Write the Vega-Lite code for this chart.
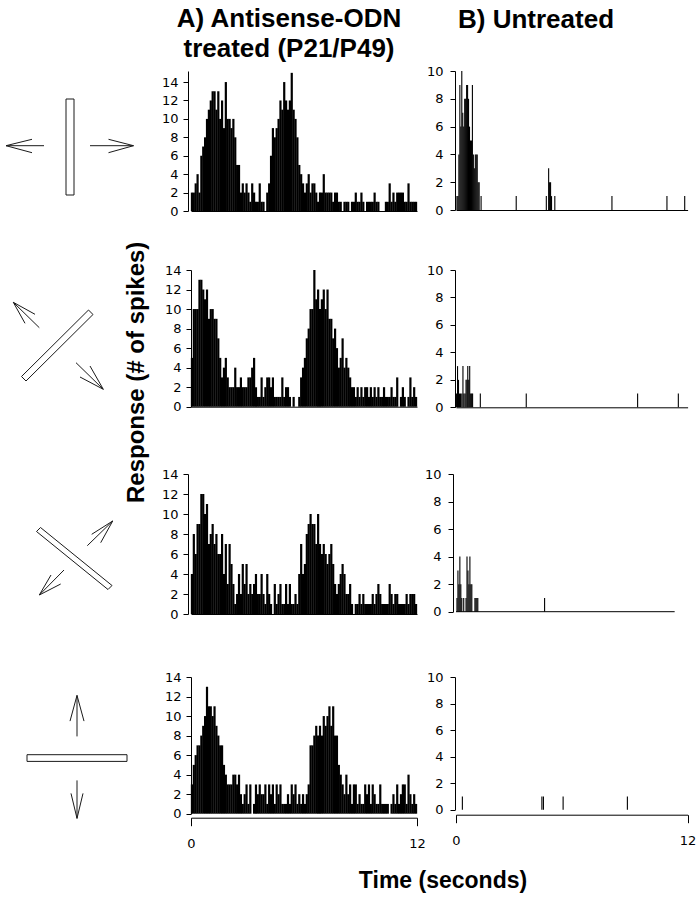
{
"$schema":"https://vega.github.io/schema/vega-lite/v6.json",
"background":"white",
"padding":{"left":0,"top":6,"right":2,"bottom":5},
"config":{"view":{"stroke":null},"font":"Liberation Sans",
"axis":{"domainColor":"black","tickColor":"black","labelColor":"black","grid":false,"labelFont":"DejaVu Sans","labelFontSize":13,"labelOverlap":false,"tickSize":5,"domainWidth":1,"tickWidth":1},
"title":{"font":"Liberation Sans","fontWeight":"bold","color":"black"}},
"datasets":{
"a1":[{"t":0.05,"n":2},{"t":0.15,"n":2},{"t":0.25,"n":3},{"t":0.35,"n":4},{"t":0.45,"n":2},{"t":0.55,"n":6},{"t":0.65,"n":7},{"t":0.75,"n":8},{"t":0.85,"n":10},{"t":0.95,"n":11},
{"t":1.05,"n":12},{"t":1.15,"n":13},{"t":1.25,"n":13},{"t":1.35,"n":11},{"t":1.45,"n":13},{"t":1.55,"n":10},{"t":1.65,"n":12},{"t":1.75,"n":9},{"t":1.85,"n":14},{"t":1.95,"n":10},
{"t":2.05,"n":10},{"t":2.15,"n":9},{"t":2.25,"n":10},{"t":2.35,"n":8},{"t":2.45,"n":5},{"t":2.55,"n":5},{"t":2.65,"n":2},{"t":2.75,"n":3},{"t":2.85,"n":2},{"t":2.95,"n":3},
{"t":3.05,"n":2},{"t":3.15,"n":1},{"t":3.25,"n":3},{"t":3.35,"n":2},{"t":3.45,"n":1},{"t":3.55,"n":1},{"t":3.65,"n":3},{"t":3.75,"n":1},{"t":3.85,"n":1},{"t":3.95,"n":0},
{"t":4.05,"n":2},{"t":4.15,"n":3},{"t":4.25,"n":6},{"t":4.35,"n":9},{"t":4.45,"n":8},{"t":4.55,"n":9},{"t":4.65,"n":10},{"t":4.75,"n":12},{"t":4.85,"n":11},{"t":4.95,"n":14},
{"t":5.05,"n":12},{"t":5.15,"n":11},{"t":5.25,"n":12},{"t":5.35,"n":15},{"t":5.45,"n":11},{"t":5.55,"n":10},{"t":5.65,"n":8},{"t":5.75,"n":5},{"t":5.85,"n":4},{"t":5.95,"n":3},
{"t":6.05,"n":2},{"t":6.15,"n":3},{"t":6.25,"n":4},{"t":6.35,"n":2},{"t":6.45,"n":3},{"t":6.55,"n":3},{"t":6.65,"n":2},{"t":6.75,"n":1},{"t":6.85,"n":2},{"t":6.95,"n":2},
{"t":7.05,"n":4},{"t":7.15,"n":2},{"t":7.25,"n":2},{"t":7.35,"n":2},{"t":7.45,"n":2},{"t":7.55,"n":1},{"t":7.65,"n":2},{"t":7.75,"n":2},{"t":7.85,"n":1},{"t":7.95,"n":1},
{"t":8.05,"n":0},{"t":8.15,"n":1},{"t":8.25,"n":1},{"t":8.35,"n":1},{"t":8.45,"n":0},{"t":8.55,"n":1},{"t":8.65,"n":1},{"t":8.75,"n":2},{"t":8.85,"n":1},{"t":8.95,"n":1},
{"t":9.05,"n":2},{"t":9.15,"n":1},{"t":9.25,"n":0},{"t":9.35,"n":1},{"t":9.45,"n":1},{"t":9.55,"n":1},{"t":9.65,"n":1},{"t":9.75,"n":2},{"t":9.85,"n":1},{"t":9.95,"n":1},
{"t":10.05,"n":0},{"t":10.15,"n":0},{"t":10.25,"n":0},{"t":10.35,"n":1},{"t":10.45,"n":1},{"t":10.55,"n":3},{"t":10.65,"n":1},{"t":10.75,"n":2},{"t":10.85,"n":1},{"t":10.95,"n":2},
{"t":11.05,"n":2},{"t":11.15,"n":2},{"t":11.25,"n":2},{"t":11.35,"n":1},{"t":11.45,"n":1},{"t":11.55,"n":3},{"t":11.65,"n":1},{"t":11.75,"n":1},{"t":11.85,"n":1},{"t":11.95,"n":1}],
"a2":[{"t":0.05,"n":5},{"t":0.15,"n":10},{"t":0.25,"n":10},{"t":0.35,"n":10},{"t":0.45,"n":13},{"t":0.55,"n":13},{"t":0.65,"n":12},{"t":0.75,"n":11},{"t":0.85,"n":12},{"t":0.95,"n":9},
{"t":1.05,"n":10},{"t":1.15,"n":10},{"t":1.25,"n":9},{"t":1.35,"n":9},{"t":1.45,"n":7},{"t":1.55,"n":5},{"t":1.65,"n":3},{"t":1.75,"n":4},{"t":1.85,"n":5},{"t":1.95,"n":3},
{"t":2.05,"n":2},{"t":2.15,"n":2},{"t":2.25,"n":2},{"t":2.35,"n":4},{"t":2.45,"n":2},{"t":2.55,"n":2},{"t":2.65,"n":3},{"t":2.75,"n":2},{"t":2.85,"n":2},{"t":2.95,"n":2},
{"t":3.05,"n":3},{"t":3.15,"n":3},{"t":3.25,"n":4},{"t":3.35,"n":5},{"t":3.45,"n":2},{"t":3.55,"n":1},{"t":3.65,"n":1},{"t":3.75,"n":3},{"t":3.85,"n":1},{"t":3.95,"n":2},
{"t":4.05,"n":3},{"t":4.15,"n":3},{"t":4.25,"n":2},{"t":4.35,"n":3},{"t":4.45,"n":1},{"t":4.55,"n":1},{"t":4.65,"n":1},{"t":4.75,"n":1},{"t":4.85,"n":3},{"t":4.95,"n":1},
{"t":5.05,"n":2},{"t":5.15,"n":2},{"t":5.25,"n":1},{"t":5.35,"n":0},{"t":5.45,"n":1},{"t":5.55,"n":0},{"t":5.65,"n":0},{"t":5.75,"n":1},{"t":5.85,"n":3},{"t":5.95,"n":4},
{"t":6.05,"n":5},{"t":6.15,"n":7},{"t":6.25,"n":8},{"t":6.35,"n":10},{"t":6.45,"n":10},{"t":6.55,"n":14},{"t":6.65,"n":11},{"t":6.75,"n":12},{"t":6.85,"n":10},{"t":6.95,"n":11},
{"t":7.05,"n":12},{"t":7.15,"n":10},{"t":7.25,"n":12},{"t":7.35,"n":9},{"t":7.45,"n":9},{"t":7.55,"n":7},{"t":7.65,"n":8},{"t":7.75,"n":6},{"t":7.85,"n":4},{"t":7.95,"n":5},
{"t":8.05,"n":7},{"t":8.15,"n":4},{"t":8.25,"n":5},{"t":8.35,"n":4},{"t":8.45,"n":3},{"t":8.55,"n":2},{"t":8.65,"n":2},{"t":8.75,"n":1},{"t":8.85,"n":2},{"t":8.95,"n":1},
{"t":9.05,"n":2},{"t":9.15,"n":1},{"t":9.25,"n":2},{"t":9.35,"n":2},{"t":9.45,"n":1},{"t":9.55,"n":2},{"t":9.65,"n":1},{"t":9.75,"n":2},{"t":9.85,"n":1},{"t":9.95,"n":2},
{"t":10.05,"n":1},{"t":10.15,"n":1},{"t":10.25,"n":2},{"t":10.35,"n":1},{"t":10.45,"n":1},{"t":10.55,"n":1},{"t":10.65,"n":2},{"t":10.75,"n":1},{"t":10.85,"n":1},{"t":10.95,"n":3},
{"t":11.05,"n":0},{"t":11.15,"n":1},{"t":11.25,"n":2},{"t":11.35,"n":1},{"t":11.45,"n":0},{"t":11.55,"n":1},{"t":11.65,"n":3},{"t":11.75,"n":1},{"t":11.85,"n":2},{"t":11.95,"n":1}],
"a3":[{"t":0.05,"n":4},{"t":0.15,"n":8},{"t":0.25,"n":6},{"t":0.35,"n":9},{"t":0.45,"n":9},{"t":0.55,"n":12},{"t":0.65,"n":12},{"t":0.75,"n":10},{"t":0.85,"n":11},{"t":0.95,"n":7},
{"t":1.05,"n":8},{"t":1.15,"n":9},{"t":1.25,"n":7},{"t":1.35,"n":8},{"t":1.45,"n":6},{"t":1.55,"n":6},{"t":1.65,"n":8},{"t":1.75,"n":4},{"t":1.85,"n":7},{"t":1.95,"n":3},
{"t":2.05,"n":7},{"t":2.15,"n":5},{"t":2.25,"n":3},{"t":2.35,"n":1},{"t":2.45,"n":2},{"t":2.55,"n":4},{"t":2.65,"n":2},{"t":2.75,"n":5},{"t":2.85,"n":3},{"t":2.95,"n":5},
{"t":3.05,"n":2},{"t":3.15,"n":3},{"t":3.25,"n":2},{"t":3.35,"n":3},{"t":3.45,"n":4},{"t":3.55,"n":2},{"t":3.65,"n":2},{"t":3.75,"n":4},{"t":3.85,"n":2},{"t":3.95,"n":1},
{"t":4.05,"n":4},{"t":4.15,"n":2},{"t":4.25,"n":1},{"t":4.35,"n":0},{"t":4.45,"n":3},{"t":4.55,"n":1},{"t":4.65,"n":2},{"t":4.75,"n":3},{"t":4.85,"n":1},{"t":4.95,"n":1},
{"t":5.05,"n":3},{"t":5.15,"n":1},{"t":5.25,"n":3},{"t":5.35,"n":1},{"t":5.45,"n":1},{"t":5.55,"n":2},{"t":5.65,"n":1},{"t":5.75,"n":4},{"t":5.85,"n":7},{"t":5.95,"n":4},
{"t":6.05,"n":5},{"t":6.15,"n":8},{"t":6.25,"n":9},{"t":6.35,"n":10},{"t":6.45,"n":9},{"t":6.55,"n":9},{"t":6.65,"n":7},{"t":6.75,"n":10},{"t":6.85,"n":7},{"t":6.95,"n":6},
{"t":7.05,"n":7},{"t":7.15,"n":6},{"t":7.25,"n":5},{"t":7.35,"n":6},{"t":7.45,"n":7},{"t":7.55,"n":5},{"t":7.65,"n":3},{"t":7.75,"n":2},{"t":7.85,"n":3},{"t":7.95,"n":4},
{"t":8.05,"n":5},{"t":8.15,"n":4},{"t":8.25,"n":2},{"t":8.35,"n":2},{"t":8.45,"n":3},{"t":8.55,"n":1},{"t":8.65,"n":0},{"t":8.75,"n":1},{"t":8.85,"n":1},{"t":8.95,"n":2},
{"t":9.05,"n":1},{"t":9.15,"n":2},{"t":9.25,"n":1},{"t":9.35,"n":1},{"t":9.45,"n":1},{"t":9.55,"n":1},{"t":9.65,"n":2},{"t":9.75,"n":1},{"t":9.85,"n":2},{"t":9.95,"n":3},
{"t":10.05,"n":2},{"t":10.15,"n":1},{"t":10.25,"n":1},{"t":10.35,"n":1},{"t":10.45,"n":1},{"t":10.55,"n":3},{"t":10.65,"n":2},{"t":10.75,"n":1},{"t":10.85,"n":2},{"t":10.95,"n":2},
{"t":11.05,"n":1},{"t":11.15,"n":1},{"t":11.25,"n":1},{"t":11.35,"n":1},{"t":11.45,"n":2},{"t":11.55,"n":1},{"t":11.65,"n":2},{"t":11.75,"n":2},{"t":11.85,"n":2},{"t":11.95,"n":1}],
"a4":[{"t":0.05,"n":3},{"t":0.15,"n":5},{"t":0.25,"n":6},{"t":0.35,"n":7},{"t":0.45,"n":7},{"t":0.55,"n":8},{"t":0.65,"n":9},{"t":0.75,"n":10},{"t":0.85,"n":13},{"t":0.95,"n":11},
{"t":1.05,"n":11},{"t":1.15,"n":10},{"t":1.25,"n":11},{"t":1.35,"n":9},{"t":1.45,"n":8},{"t":1.55,"n":7},{"t":1.65,"n":7},{"t":1.75,"n":5},{"t":1.85,"n":4},{"t":1.95,"n":3},
{"t":2.05,"n":3},{"t":2.15,"n":3},{"t":2.25,"n":4},{"t":2.35,"n":4},{"t":2.45,"n":3},{"t":2.55,"n":4},{"t":2.65,"n":2},{"t":2.75,"n":1},{"t":2.85,"n":2},{"t":2.95,"n":3},
{"t":3.05,"n":1},{"t":3.15,"n":3},{"t":3.25,"n":0},{"t":3.35,"n":1},{"t":3.45,"n":3},{"t":3.55,"n":2},{"t":3.65,"n":3},{"t":3.75,"n":2},{"t":3.85,"n":2},{"t":3.95,"n":3},
{"t":4.05,"n":1},{"t":4.15,"n":3},{"t":4.25,"n":2},{"t":4.35,"n":3},{"t":4.45,"n":1},{"t":4.55,"n":3},{"t":4.65,"n":2},{"t":4.75,"n":3},{"t":4.85,"n":1},{"t":4.95,"n":1},
{"t":5.05,"n":1},{"t":5.15,"n":2},{"t":5.25,"n":1},{"t":5.35,"n":3},{"t":5.45,"n":2},{"t":5.55,"n":3},{"t":5.65,"n":1},{"t":5.75,"n":2},{"t":5.85,"n":1},{"t":5.95,"n":2},
{"t":6.05,"n":1},{"t":6.15,"n":2},{"t":6.25,"n":3},{"t":6.35,"n":7},{"t":6.45,"n":7},{"t":6.55,"n":8},{"t":6.65,"n":9},{"t":6.75,"n":8},{"t":6.85,"n":9},{"t":6.95,"n":8},
{"t":7.05,"n":10},{"t":7.15,"n":9},{"t":7.25,"n":10},{"t":7.35,"n":11},{"t":7.45,"n":9},{"t":7.55,"n":11},{"t":7.65,"n":8},{"t":7.75,"n":8},{"t":7.85,"n":5},{"t":7.95,"n":4},
{"t":8.05,"n":3},{"t":8.15,"n":2},{"t":8.25,"n":4},{"t":8.35,"n":2},{"t":8.45,"n":3},{"t":8.55,"n":1},{"t":8.65,"n":3},{"t":8.75,"n":3},{"t":8.85,"n":1},{"t":8.95,"n":2},
{"t":9.05,"n":1},{"t":9.15,"n":1},{"t":9.25,"n":3},{"t":9.35,"n":2},{"t":9.45,"n":3},{"t":9.55,"n":1},{"t":9.65,"n":3},{"t":9.75,"n":2},{"t":9.85,"n":1},{"t":9.95,"n":1},
{"t":10.05,"n":3},{"t":10.15,"n":1},{"t":10.25,"n":1},{"t":10.35,"n":1},{"t":10.45,"n":1},{"t":10.55,"n":0},{"t":10.65,"n":1},{"t":10.75,"n":2},{"t":10.85,"n":1},{"t":10.95,"n":3},
{"t":11.05,"n":1},{"t":11.15,"n":2},{"t":11.25,"n":3},{"t":11.35,"n":3},{"t":11.45,"n":1},{"t":11.55,"n":4},{"t":11.65,"n":2},{"t":11.75,"n":1},{"t":11.85,"n":2},{"t":11.95,"n":1}],
"b1":[{"t":0.05,"n":1},{"t":0.1,"n":1},{"t":0.15,"n":4},{"t":0.2,"n":9},{"t":0.25,"n":6},{"t":0.3,"n":10},{"t":0.35,"n":7},{"t":0.4,"n":6},{"t":0.45,"n":8},{"t":0.5,"n":8},{"t":0.55,"n":9},{"t":0.6,"n":9},{"t":0.65,"n":8},{"t":0.7,"n":6},{"t":0.75,"n":5},{"t":0.8,"n":5},{"t":0.85,"n":9},{"t":0.9,"n":4},{"t":0.95,"n":3},{"t":1.0,"n":4},{"t":1.05,"n":4},{"t":1.1,"n":4},{"t":1.15,"n":2},{"t":1.2,"n":2},{"t":1.3,"n":1},{"t":3.12,"n":1},{"t":4.68,"n":1},{"t":4.8,"n":3},{"t":4.85,"n":2},{"t":4.9,"n":2},{"t":4.95,"n":1},{"t":5.12,"n":1},{"t":8.08,"n":1},{"t":10.93,"n":1},{"t":11.85,"n":1}],
"b2":[{"t":0.03,"n":1},{"t":0.08,"n":3},{"t":0.13,"n":2},{"t":0.18,"n":1},{"t":0.23,"n":1},{"t":0.3,"n":1},{"t":0.36,"n":3},{"t":0.41,"n":1},{"t":0.47,"n":1},{"t":0.52,"n":2},{"t":0.57,"n":2},{"t":0.61,"n":3},{"t":0.66,"n":2},{"t":0.71,"n":3},{"t":0.76,"n":1},{"t":0.81,"n":1},{"t":0.86,"n":1},{"t":1.26,"n":1},{"t":3.64,"n":1},{"t":9.41,"n":1},{"t":11.52,"n":1}],
"b3":[{"t":0.05,"n":1},{"t":0.1,"n":3},{"t":0.15,"n":2},{"t":0.2,"n":4},{"t":0.25,"n":2},{"t":0.3,"n":1},{"t":0.4,"n":1},{"t":0.52,"n":1},{"t":0.57,"n":4},{"t":0.62,"n":3},{"t":0.67,"n":2},{"t":0.72,"n":4},{"t":0.77,"n":2},{"t":0.82,"n":2},{"t":0.98,"n":1},{"t":1.03,"n":1},{"t":1.08,"n":1},{"t":1.13,"n":1},{"t":4.59,"n":1}],
"b3base":[{"s":0,"e":11.33}],
"b4":[{"t":0.33,"n":1},{"t":4.45,"n":1},{"t":4.53,"n":1},{"t":5.55,"n":1},{"t":8.88,"n":1}],
"ic1":[
{"id":"r","o":1,"x":66,"y":28},{"id":"r","o":2,"x":74,"y":28},{"id":"r","o":3,"x":74,"y":124},{"id":"r","o":4,"x":66,"y":124},{"id":"r","o":5,"x":66,"y":28},
{"id":"a","o":1,"x":44,"y":74.7},{"id":"a","o":2,"x":6,"y":74.7},
{"id":"b","o":1,"x":32,"y":68.3},{"id":"b","o":2,"x":6,"y":74.7},{"id":"b","o":3,"x":32,"y":81.7},
{"id":"c","o":1,"x":90,"y":74.7},{"id":"c","o":2,"x":133.5,"y":74.7},
{"id":"d","o":1,"x":108.5,"y":68.3},{"id":"d","o":2,"x":133.5,"y":74.7},{"id":"d","o":3,"x":108.5,"y":81.7}],
"ic2":[
{"id":"r","o":1,"x":21.5,"y":106.5},{"id":"r","o":2,"x":88.5,"y":40},{"id":"r","o":3,"x":93,"y":44.5},{"id":"r","o":4,"x":26,"y":111},{"id":"r","o":5,"x":21.5,"y":106.5},
{"id":"a","o":1,"x":39.3,"y":57.7},{"id":"a","o":2,"x":13.3,"y":32.3},
{"id":"b","o":1,"x":35,"y":44.3},{"id":"b","o":2,"x":13.3,"y":32.3},{"id":"b","o":3,"x":25,"y":53.3},
{"id":"c","o":1,"x":76,"y":92.7},{"id":"c","o":2,"x":103.3,"y":119.3},
{"id":"d","o":1,"x":80,"y":107},{"id":"d","o":2,"x":103.3,"y":119.3},{"id":"d","o":3,"x":90,"y":96}],
"ic3":[
{"id":"r","o":1,"x":36.5,"y":57.5},{"id":"r","o":2,"x":40.5,"y":53.5},{"id":"r","o":3,"x":112,"y":111.5},{"id":"r","o":4,"x":108,"y":115.5},{"id":"r","o":5,"x":36.5,"y":57.5},
{"id":"a","o":1,"x":87.3,"y":71.7},{"id":"a","o":2,"x":112.7,"y":47},
{"id":"b","o":1,"x":91.7,"y":60.3},{"id":"b","o":2,"x":112.7,"y":47},{"id":"b","o":3,"x":100.7,"y":68.7},
{"id":"c","o":1,"x":64,"y":96},{"id":"c","o":2,"x":39.3,"y":121},
{"id":"d","o":1,"x":60.7,"y":110},{"id":"d","o":2,"x":39.3,"y":121},{"id":"d","o":3,"x":51,"y":101}],
"ic4":[
{"id":"r","o":1,"x":27,"y":77.7},{"id":"r","o":2,"x":127,"y":77.7},{"id":"r","o":3,"x":127,"y":84.4},{"id":"r","o":4,"x":27,"y":84.4},{"id":"r","o":5,"x":27,"y":77.7},
{"id":"a","o":1,"x":77,"y":59.4},{"id":"a","o":2,"x":77,"y":18.4},
{"id":"b","o":1,"x":70,"y":44.1},{"id":"b","o":2,"x":77,"y":18.4},{"id":"b","o":3,"x":84,"y":44.1},
{"id":"c","o":1,"x":77,"y":103.4},{"id":"c","o":2,"x":77,"y":141.4},
{"id":"d","o":1,"x":71,"y":116.4},{"id":"d","o":2,"x":77,"y":141.4},{"id":"d","o":3,"x":83,"y":116.4}]
},
"columns":3,
"bounds":"flush",
"align":"each",
"spacing":{"row":40,"column":39},
"concat":[
{"width":152,"height":159,"data":{"name":"ic1"},
 "mark":{"type":"line","color":"#1a1a1a","strokeWidth":1},
 "encoding":{
  "x":{"field":"x","type":"quantitative","scale":{"domain":[0,152],"nice":false,"zero":false},"axis":null},
  "y":{"field":"y","type":"quantitative","scale":{"domain":[0,159],"nice":false,"zero":false,"reverse":true},"axis":null},
  "detail":{"field":"id"},"order":{"field":"o","type":"quantitative"}}},
{"width":226,"height":140,
 "title":{"text":["A) Antisense-ODN","treated (P21/P49)"],"fontSize":26,"lineHeight":30,"anchor":"middle","frame":"group","offset":9,"dx":-15},
 "data":{"name":"a1"},
 "mark":{"type":"bar","orient":"vertical","width":2.2,"color":"black"},
 "encoding":{
  "x":{"field":"t","type":"quantitative","scale":{"domain":[0,12],"nice":false,"padding":0},"axis":{"title":null,"labels":false,"ticks":false}},
  "y":{"field":"n","type":"quantitative","scale":{"domain":[0,15.2],"nice":false},"axis":{"title":null,"values":[0,2,4,6,8,10,12,14],"offset":3,"labelPadding":5}}}},
{"width":231.6,"height":139,
 "title":{"text":"B) Untreated","fontSize":26,"anchor":"start","frame":"group","offset":32,"dx":2},
 "data":{"name":"b1"},
 "mark":{"type":"bar","orient":"vertical","width":1.1,"color":"black"},
 "encoding":{
  "x":{"field":"t","type":"quantitative","scale":{"domain":[0,12],"nice":false,"padding":0},"axis":{"title":null,"labels":false,"ticks":false}},
  "y":{"field":"n","type":"quantitative","scale":{"domain":[0,10],"nice":false},"axis":{"title":null,"values":[0,2,4,6,8,10],"offset":1,"labelPadding":7}}}},
{"width":152,"height":164,"data":{"name":"ic2"},
 "mark":{"type":"line","color":"#1a1a1a","strokeWidth":1},
 "encoding":{
  "x":{"field":"x","type":"quantitative","scale":{"domain":[0,152],"nice":false,"zero":false},"axis":null},
  "y":{"field":"y","type":"quantitative","scale":{"domain":[0,164],"nice":false,"zero":false,"reverse":true},"axis":null},
  "detail":{"field":"id"},"order":{"field":"o","type":"quantitative"}}},
{"width":226,"height":136.7,
 "title":{"text":"Response (# of spikes)","orient":"left","anchor":"middle","frame":"group","fontSize":24,"offset":15,"dx":-34},
 "data":{"name":"a2"},
 "mark":{"type":"bar","orient":"vertical","width":2.2,"color":"black"},
 "encoding":{
  "x":{"field":"t","type":"quantitative","scale":{"domain":[0,12],"nice":false,"padding":0},"axis":{"title":null,"labels":false,"ticks":false}},
  "y":{"field":"n","type":"quantitative","scale":{"domain":[0,14],"nice":false},"axis":{"title":null,"values":[0,2,4,6,8,10,12,14],"labelPadding":5}}}},
{"width":231.6,"height":137.3,
 "data":{"name":"b2"},
 "mark":{"type":"bar","orient":"vertical","width":1.1,"color":"black"},
 "encoding":{
  "x":{"field":"t","type":"quantitative","scale":{"domain":[0,12],"nice":false,"padding":0},"axis":{"title":null,"labels":false,"ticks":false}},
  "y":{"field":"n","type":"quantitative","scale":{"domain":[0,10],"nice":false},"axis":{"title":null,"values":[0,2,4,6,8,10],"offset":1,"labelPadding":7}}}},
{"width":152,"height":162.6,"data":{"name":"ic3"},
 "mark":{"type":"line","color":"#1a1a1a","strokeWidth":1},
 "encoding":{
  "x":{"field":"x","type":"quantitative","scale":{"domain":[0,152],"nice":false,"zero":false},"axis":null},
  "y":{"field":"y","type":"quantitative","scale":{"domain":[0,162.6],"nice":false,"zero":false,"reverse":true},"axis":null},
  "detail":{"field":"id"},"order":{"field":"o","type":"quantitative"}}},
{"width":226,"height":140,
 "data":{"name":"a3"},
 "mark":{"type":"bar","orient":"vertical","width":2.2,"color":"black"},
 "encoding":{
  "x":{"field":"t","type":"quantitative","scale":{"domain":[0,12],"nice":false,"padding":0},"axis":{"title":null,"labels":false,"ticks":false}},
  "y":{"field":"n","type":"quantitative","scale":{"domain":[0,14],"nice":false},"axis":{"title":null,"values":[0,2,4,6,8,10,12,14],"offset":3,"labelPadding":5}}}},
{"width":231.6,"height":137.7,
 "layer":[
  {"data":{"name":"b3"},
   "mark":{"type":"bar","orient":"vertical","width":1.1,"color":"black"},
   "encoding":{
    "x":{"field":"t","type":"quantitative","scale":{"domain":[0,12],"nice":false,"padding":0},"axis":null},
    "y":{"field":"n","type":"quantitative","scale":{"domain":[0,10],"nice":false},"axis":{"title":null,"values":[0,2,4,6,8,10],"offset":3,"labelPadding":7,"labelOverlap":false}}}},
  {"data":{"name":"b3base"},
   "mark":{"type":"rule","color":"black","strokeWidth":1},
   "encoding":{"x":{"field":"s","type":"quantitative","axis":null},"x2":{"field":"e"},
    "y":{"datum":0,"type":"quantitative","axis":{"title":null,"values":[0,2,4,6,8,10],"offset":3,"labelPadding":7,"labelOverlap":false}}}}]},
{"width":152,"height":150,"data":{"name":"ic4"},
 "mark":{"type":"line","color":"#1a1a1a","strokeWidth":1},
 "encoding":{
  "x":{"field":"x","type":"quantitative","scale":{"domain":[0,152],"nice":false,"zero":false},"axis":null},
  "y":{"field":"y","type":"quantitative","scale":{"domain":[0,150],"nice":false,"zero":false,"reverse":true},"axis":null},
  "detail":{"field":"id"},"order":{"field":"o","type":"quantitative"}}},
{"width":226,"height":136.7,
 "title":{"text":"Time (seconds)","orient":"bottom","anchor":"middle","frame":"group","fontSize":23,"offset":19,"dx":139},
 "data":{"name":"a4"},
 "mark":{"type":"bar","orient":"vertical","width":2.2,"color":"black"},
 "encoding":{
  "x":{"field":"t","type":"quantitative","scale":{"domain":[0,12],"nice":false,"padding":0},"axis":{"title":null,"values":[0,12],"offset":4,"tickSize":8,"labelPadding":12,"labelFlush":false}},
  "y":{"field":"n","type":"quantitative","scale":{"domain":[0,14],"nice":false},"axis":{"title":null,"values":[0,2,4,6,8,10,12,14],"labelPadding":5}}}},
{"width":231.6,"height":132.7,
 "data":{"name":"b4"},
 "mark":{"type":"bar","orient":"vertical","width":1.1,"color":"black"},
 "encoding":{
  "x":{"field":"t","type":"quantitative","scale":{"domain":[0,12],"nice":false,"padding":0},"axis":{"title":null,"values":[0,12],"offset":5,"tickSize":8,"labelPadding":12,"labelFlush":false}},
  "y":{"field":"n","type":"quantitative","scale":{"domain":[0,10],"nice":false},"axis":{"title":null,"values":[0,2,4,6,8,10],"offset":1,"labelPadding":7}}}}
]
}
